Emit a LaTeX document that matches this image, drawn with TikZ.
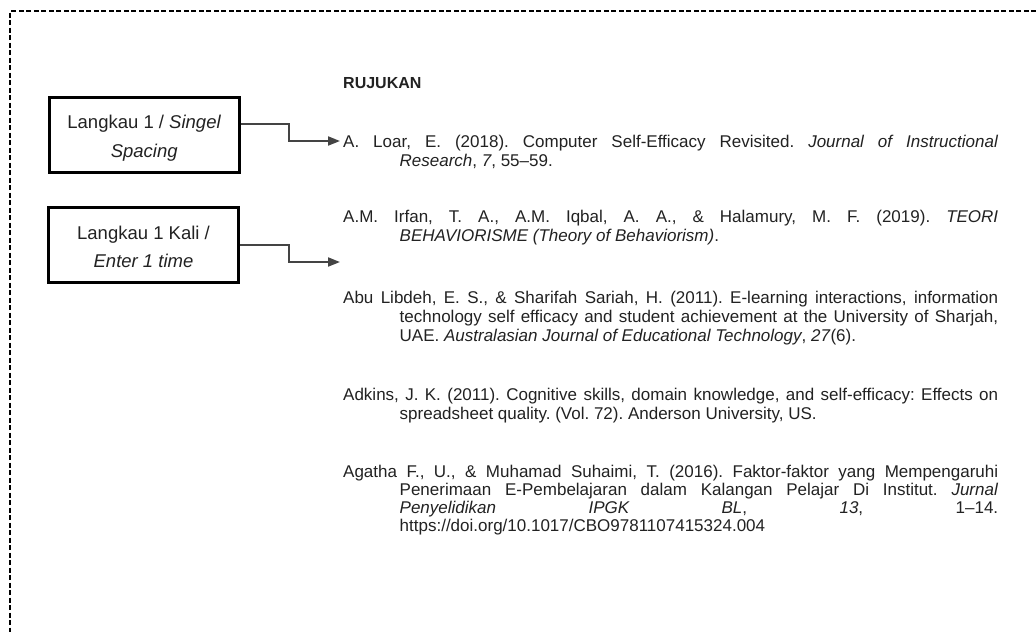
\documentclass[tikz,border=0pt]{standalone}
\usepackage{fontspec}
\setmainfont{Liberation Sans}
\usetikzlibrary{arrows.meta}
\frenchspacing
\definecolor{txt}{HTML}{222222}
\definecolor{conncol}{HTML}{444444}
\tikzset{
  frameline/.style={line width=1.8pt, dash pattern=on 5pt off 2.5pt},
  labelbox/.style={draw=black, line width=3pt, minimum width=190.5pt, minimum height=75pt, inner sep=0pt},
  boxtext/.style={align=center, inner sep=0pt, text=txt, font=\fontsize{18.5}{28.5}\selectfont},
  conn/.style={draw=conncol, line width=1.8pt, -{Triangle[length=12pt,width=9pt]}},
  refentry/.style={anchor=base west, text width=655pt, inner sep=0pt, align=justify,
    text=txt, font=\fontsize{17}{19}\selectfont},
  heading/.style={anchor=base west, inner sep=0pt, text=txt, font=\fontsize{16}{18}\selectfont\bfseries}
}
\begin{document}
\begin{tikzpicture}[x=1pt,y=-1pt]
\useasboundingbox (0,0) rectangle (1036,632);
\fill[white] (0,0) rectangle (1036,632);
\draw[frameline] (1036,11) -- (10,11) -- (10,632);

\node[heading] (h) at (343,88) {RUJUKAN};

\node[labelbox] (b1) at (144.25,135) {};
\node[boxtext] (b1t) at ([yshift=-3pt]b1.center) {Langkau 1 / \textit{Singel}\\\textit{Spacing}};
\node[labelbox] (b2) at (143.5,245) {};
\node[boxtext] (b2t) at ([yshift=-2pt]b2.center) {Langkau 1 Kali /\\\textit{Enter 1 time}};

\node[refentry] (e1) at (343,147) {\leavevmode\hangindent=56.5pt\hangafter=1 A. Loar, E. (2018). Computer Self-Efficacy Revisited. \textit{Journal of Instructional}\linebreak \textit{Research}, \textit{7}, 55–59.\par};
\node[refentry] (e2) at (343,222) {\leavevmode\hangindent=56.5pt\hangafter=1 A.M. Irfan, T. A., A.M. Iqbal, A. A., \& Halamury, M. F. (2019). \textit{TEORI}\linebreak \textit{BEHAVIORISME (Theory of Behaviorism)}.\par};
\node[refentry] (e3) at (343,303) {\leavevmode\hangindent=56.5pt\hangafter=1 Abu Libdeh, E. S., \& Sharifah Sariah, H. (2011). E-learning interactions, information\linebreak technology self efficacy and student achievement at the University of Sharjah,\linebreak UAE. \textit{Australasian Journal of Educational Technology}, \textit{27}(6).\par};
\node[refentry] (e4) at (343,400) {\leavevmode\hangindent=56.5pt\hangafter=1 Adkins, J. K. (2011). Cognitive skills, domain knowledge, and self-efficacy: Effects on\linebreak spreadsheet quality. (Vol. 72). Anderson University, US.\par};
\node[refentry, font=\fontsize{17}{18}\selectfont] (e5) at (343,477) {\leavevmode\hangindent=56.5pt\hangafter=1 Agatha F., U., \& Muhamad Suhaimi, T. (2016). Faktor-faktor yang Mempengaruhi\linebreak Penerimaan E-Pembelajaran dalam Kalangan Pelajar Di Institut. \textit{Jurnal}\linebreak \textit{Penyelidikan IPGK BL}, \textit{13}, 1–14.\linebreak https://doi.org/10.1017/CBO9781107415324.004\par};

\coordinate (t1) at (340,141);
\coordinate (t2) at (340,262);
\draw[conn] ([yshift=11pt]b1.east) -- ++(48,0) |- (t1);
\draw[conn] (b2.east) -- ++(49,0) |- (t2);
\end{tikzpicture}
\end{document}
